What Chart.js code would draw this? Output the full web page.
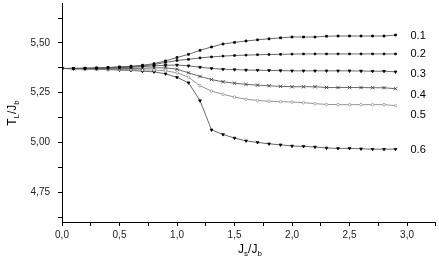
<!DOCTYPE html>
<html>
<head>
<meta charset="utf-8">
<script src="https://cdn.jsdelivr.net/npm/chart.js@4.4.1/dist/chart.umd.min.js"></script>
<style>
  body { margin: 0; background: #fff; }
  canvas { display: block; }
</style>
</head>
<body>
<canvas id="chart" width="439" height="264"></canvas>
<script>
// x values (Js/Jb)
const xs = [0.0,0.1,0.2,0.3,0.4,0.5,0.6,0.7,0.8,0.9,1.0,1.1,1.2,1.3,1.4,1.5,1.6,1.7,1.8,1.9,2.0,2.1,2.2,2.3,2.4,2.5,2.6,2.7,2.8,2.9]

// TL/Jb for each curve
const s01 = [5.372,5.372,5.373,5.375,5.377,5.380,5.383,5.388,5.396,5.410,5.427,5.443,5.463,5.480,5.495,5.503,5.510,5.516,5.521,5.526,5.530,5.530,5.530,5.534,5.535,5.535,5.535,5.535,5.535,5.540]
const s02 = [5.372,5.372,5.373,5.374,5.376,5.378,5.381,5.385,5.392,5.402,5.412,5.418,5.425,5.430,5.434,5.437,5.439,5.441,5.442,5.443,5.444,5.445,5.445,5.445,5.445,5.445,5.445,5.445,5.445,5.445]
const s03 = [5.372,5.372,5.372,5.373,5.374,5.376,5.378,5.381,5.385,5.388,5.389,5.385,5.378,5.372,5.368,5.366,5.364,5.363,5.362,5.361,5.360,5.360,5.360,5.360,5.360,5.360,5.359,5.358,5.358,5.355]
const s04 = [5.372,5.371,5.371,5.371,5.371,5.371,5.372,5.373,5.375,5.375,5.368,5.350,5.332,5.316,5.305,5.298,5.292,5.288,5.285,5.282,5.280,5.280,5.280,5.276,5.276,5.276,5.276,5.275,5.275,5.270]
const s05 = [5.372,5.371,5.370,5.369,5.368,5.367,5.366,5.365,5.364,5.360,5.350,5.328,5.285,5.258,5.242,5.228,5.217,5.211,5.207,5.205,5.203,5.200,5.195,5.191,5.190,5.190,5.190,5.190,5.190,5.185]
const s06 = [5.372,5.370,5.369,5.368,5.366,5.364,5.362,5.358,5.355,5.345,5.327,5.300,5.210,5.063,5.040,5.022,5.008,5.000,4.993,4.988,4.982,4.980,4.977,4.972,4.970,4.970,4.968,4.966,4.966,4.966]

const curveNames = ['0.1','0.2','0.3','0.4','0.5','0.6']
const labelX = 3.03
const labelY = [5.535, 5.445, 5.345, 5.24, 5.14, 4.96]

const toPts = (ys) => ys.map((y, i) => ({x: xs[i], y: y}))

const mk = (data, style, opts) => Object.assign({
  data: toPts(data),
  borderColor: '#5a5a5a',
  borderWidth: 0.9,
  pointStyle: style,
  pointRadius: 1.3,
  pointHoverRadius: 0,
  pointBackgroundColor: '#000',
  pointBorderColor: '#000',
  pointBorderWidth: 0.8,
  tension: 0
}, opts || {})

// right-hand curve labels
const curveLabels = {
  id: 'curveLabels',
  afterDatasetsDraw(chart) {
    const ctx = chart.ctx
    const xS = chart.scales.x, yS = chart.scales.y
    ctx.save()
    ctx.font = '11px "Liberation Sans", Arial, sans-serif'
    ctx.fillStyle = '#000'
    ctx.textBaseline = 'middle'
    ctx.textAlign = 'left'
    curveNames.forEach((n, i) => {
      ctx.fillText(n, xS.getPixelForValue(labelX), yS.getPixelForValue(labelY[i]))
    })
    ctx.restore()
  }
}

// text with subscripts
function subText(ctx, parts, cx, cy) {
  const big = '12px "Liberation Sans", Arial, sans-serif'
  const small = '8px "Liberation Sans", Arial, sans-serif'
  let w = 0
  parts.forEach(p => { ctx.font = p[1] ? small : big; w += ctx.measureText(p[0]).width })
  let x = cx - w / 2
  parts.forEach(p => {
    ctx.font = p[1] ? small : big
    ctx.fillText(p[0], x, p[1] ? cy + 4 : cy)
    x += ctx.measureText(p[0]).width
  })
}

const axisTitles = {
  id: 'axisTitles',
  afterDraw(chart) {
    const ctx = chart.ctx
    ctx.save()
    ctx.fillStyle = '#000'
    ctx.textBaseline = 'middle'
    ctx.textAlign = 'left'
    subText(ctx, [['J', false], ['s', true], ['/J', false], ['b', true]], 250, 250)
    ctx.translate(13, 113)
    ctx.rotate(-Math.PI / 2)
    subText(ctx, [['T', false], ['L', true], ['/J', false], ['b', true]], 0, 0)
    ctx.restore()
  }
}

new Chart(document.getElementById('chart'), {
  type: 'line',
  data: {
    datasets: [
      mk(s01, 'rect'),
      mk(s02, 'rect', {pointRadius: 1.2}),
      mk(s03, 'triangle', {pointRotation: 180, pointRadius: 1.6}),
      mk(s04, 'crossRot', {pointRadius: 2.4, pointBorderColor: '#333'}),
      mk(s05, 'circle', {borderColor: '#8a8a8a', pointRadius: 1.3, pointBackgroundColor: '#fff', pointBorderColor: '#999'}),
      mk(s06, 'triangle', {pointRotation: 180, pointRadius: 1.6})
    ]
  },
  options: {
    responsive: false,
    animation: false,
    layout: { padding: { top: 0, right: 0, left: 0, bottom: 0 } },
    plugins: { legend: { display: false }, tooltip: { enabled: false } },
    scales: {
      x: {
        type: 'linear',
        min: 0, max: 3.25,
        afterFit: (s) => { s.height = 42; s.paddingLeft = 0; s.paddingRight = 0 },
        border: { color: '#000', width: 1 },
        grid: { drawOnChartArea: false, drawTicks: true, tickLength: 4, color: '#000' },
        ticks: {
          stepSize: 0.25,
          autoSkip: false,
          maxRotation: 0,
          padding: 3,
          color: '#222',
          font: { size: 10, family: '"Liberation Sans", Arial, sans-serif' },
          callback: (v) => Math.abs(v * 2 - Math.round(v * 2)) < 1e-6 ? v.toFixed(1).replace('.', ',') : ''
        }
      },
      y: {
        type: 'linear',
        min: 4.6, max: 5.7,
        afterFit: (s) => { s.width = 62; s.paddingTop = 0; s.paddingBottom = 0 },
        border: { color: '#000', width: 1 },
        grid: { drawOnChartArea: false, drawTicks: true, tickLength: 4, color: '#000' },
        ticks: {
          stepSize: 0.125,
          includeBounds: false,
          autoSkip: false,
          padding: 8,
          color: '#222',
          font: { size: 10, family: '"Liberation Sans", Arial, sans-serif' },
          callback: (v) => Math.abs(v * 4 - Math.round(v * 4)) < 1e-6 ? v.toFixed(2).replace('.', ',') : ''
        }
      }
    }
  },
  plugins: [curveLabels, axisTitles]
})
</script>
</body>
</html>
